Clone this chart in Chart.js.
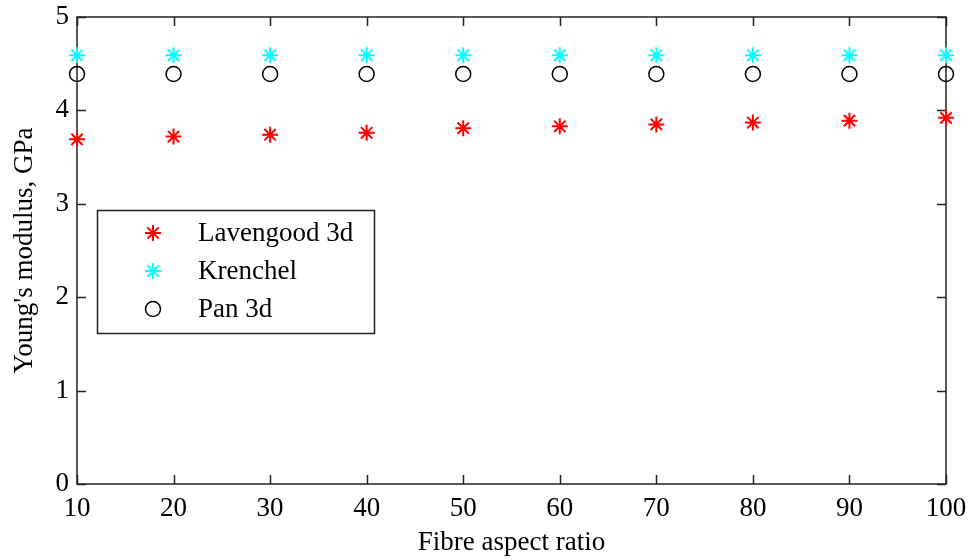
<!DOCTYPE html>
<html>
<head>
<meta charset="utf-8">
<script src="https://cdn.jsdelivr.net/npm/chart.js@4/dist/chart.umd.min.js"></script>
<style>
  body { margin: 0; background: #fff; }
  #wrap { width: 972px; height: 559px; }
</style>
</head>
<body>
<div id="wrap"><canvas id="modulusChart"></canvas></div>
<script>
// fibre aspect ratio on x
const aspectRatio = [10, 20, 30, 40, 50, 60, 70, 80, 90, 100];
const lavengood3d = [3.69, 3.72, 3.74, 3.76, 3.81, 3.83, 3.85, 3.87, 3.89, 3.92];
const krenchel = [4.59, 4.59, 4.59, 4.59, 4.59, 4.59, 4.59, 4.59, 4.59, 4.59];
const pan3d = [4.39, 4.39, 4.39, 4.39, 4.39, 4.39, 4.39, 4.39, 4.39, 4.39];
const seriesNames = ['Lavengood 3d', 'Krenchel', 'Pan 3d'];
const xTicks = [10, 20, 30, 40, 50, 60, 70, 80, 90, 100];
const yTicks = [0, 1, 2, 3, 4, 5];

const FONT = 'Liberation Serif, Times New Roman, serif';

function toPoints(vals) {
  return aspectRatio.map((x, i) => ({ x: x, y: vals[i] }));
}

// box around plot + inward ticks on all four sides (matlab look)
const boxPlugin = {
  id: 'boxPlugin',
  beforeDatasetsDraw(chart) {
    const c = chart.ctx, a = chart.chartArea;
    const xs = chart.scales.x, ys = chart.scales.y;
    c.save();
    c.strokeStyle = '#222';
    c.lineWidth = 1.5;
    c.strokeRect(a.left, a.top, a.right - a.left, a.bottom - a.top);
    c.beginPath();
    xTicks.forEach(t => {
      const px = Math.round(xs.getPixelForValue(t)) + 0.5;
      c.moveTo(px, a.bottom); c.lineTo(px, a.bottom - 9);
      c.moveTo(px, a.top); c.lineTo(px, a.top + 9);
    });
    yTicks.forEach(t => {
      const py = Math.round(ys.getPixelForValue(t)) + 0.5;
      c.moveTo(a.left, py); c.lineTo(a.left + 9, py);
      c.moveTo(a.right, py); c.lineTo(a.right - 9, py);
    });
    c.stroke();
    c.restore();
  }
};

// legend box inside the axes
const legendBox = {
  id: 'legendBox',
  afterDraw(chart) {
    const c = chart.ctx;
    const bx = 97, by = 210, bw = 277, bh = 123;
    c.save();
    c.fillStyle = '#fff';
    c.fillRect(bx, by, bw, bh);
    c.strokeStyle = '#222';
    c.lineWidth = 1.5;
    c.strokeRect(bx + 0.5, by + 0.5, bw, bh);
    chart.data.datasets.forEach((ds, i) => {
      const cy = by + 23 + i * 38;
      c.strokeStyle = ds.borderColor;
      c.fillStyle = ds.backgroundColor;
      c.lineWidth = ds.borderWidth;
      Chart.helpers.drawPoint(c, {
        pointStyle: ds.pointStyle,
        radius: ds.pointRadius,
        borderWidth: ds.borderWidth
      }, 153, cy);
      c.fillStyle = '#000';
      c.font = '27px ' + FONT;
      c.textBaseline = 'middle';
      c.fillText(seriesNames[i], 198, cy + 1);
    });
    c.restore();
  }
};

new Chart(document.getElementById('modulusChart'), {
  type: 'scatter',
  data: {
    datasets: [
      {
        label: seriesNames[0],
        data: toPoints(lavengood3d),
        pointStyle: 'star',
        pointRadius: 8,
        borderColor: '#ff0000',
        backgroundColor: '#ff0000',
        borderWidth: 2,
        clip: false
      },
      {
        label: seriesNames[1],
        data: toPoints(krenchel),
        pointStyle: 'star',
        pointRadius: 8,
        borderColor: '#00ffff',
        backgroundColor: '#00ffff',
        borderWidth: 2,
        clip: false
      },
      {
        label: seriesNames[2],
        data: toPoints(pan3d),
        pointStyle: 'circle',
        pointRadius: 7.5,
        borderColor: '#000',
        backgroundColor: 'rgba(0,0,0,0)',
        borderWidth: 1.5,
        clip: false
      }
    ]
  },
  options: {
    responsive: true,
    maintainAspectRatio: false,
    animation: false,
    layout: { padding: { top: 17, right: 26, left: 0, bottom: 0 } },
    plugins: {
      legend: { display: false },
      tooltip: { enabled: false }
    },
    scales: {
      x: {
        type: 'linear',
        min: 10,
        max: 100,
        afterBuildTicks(axis) { axis.ticks = xTicks.map(v => ({ value: v })); },
        afterFit(axis) {
          axis.height = 75;
          axis.paddingLeft = 0;
          axis.paddingRight = 0;
        },
        grid: { display: false, drawTicks: false },
        border: { display: false },
        ticks: {
          color: '#000',
          padding: 9,
          font: { family: FONT, size: 27 },
          maxRotation: 0
        },
        title: {
          display: true,
          text: 'Fibre aspect ratio',
          color: '#000',
          padding: { top: 0, bottom: 0 },
          font: { family: FONT, size: 27 }
        }
      },
      y: {
        min: 0,
        max: 5,
        afterBuildTicks(axis) { axis.ticks = yTicks.map(v => ({ value: v })); },
        afterFit(axis) {
          axis.width = 77;
          axis.paddingTop = 0;
          axis.paddingBottom = 0;
        },
        grid: { display: false, drawTicks: false },
        border: { display: false },
        ticks: {
          color: '#000',
          padding: 8,
          font: { family: FONT, size: 27 }
        },
        title: {
          display: true,
          text: "Young's modulus, GPa",
          color: '#000',
          padding: { top: 9, bottom: 4 },
          font: { family: FONT, size: 27 }
        }
      }
    }
  },
  plugins: [boxPlugin, legendBox]
});
</script>
</body>
</html>
